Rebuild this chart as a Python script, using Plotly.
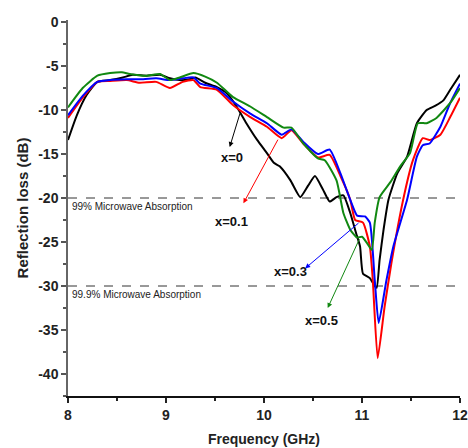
import plotly.graph_objects as go

# x = 0 (black)
f0 = [8.0, 8.09, 8.19, 8.3, 8.43, 8.56, 8.66, 8.8, 8.94, 9.04, 9.14, 9.24, 9.3, 9.4, 9.52, 9.62, 9.72, 9.82,
      9.93, 10.03, 10.1, 10.16, 10.27, 10.37, 10.45, 10.52, 10.6, 10.67, 10.74, 10.81, 10.88, 10.94, 10.98,
      11.01, 11.08, 11.13, 11.15, 11.18, 11.22, 11.27, 11.36, 11.46, 11.56, 11.66, 11.75, 11.83, 11.9, 12.0]
rl0 = [-13.4, -10.6, -8.3, -6.8, -6.6, -6.3, -6.0, -6.1, -6.0, -6.4, -6.6, -6.5, -6.3, -6.9, -7.4, -8.1, -9.6, -11.5,
       -13.4, -14.9, -16.0, -16.4, -18.0, -19.9, -18.6, -17.5, -19.0, -20.4, -19.9, -19.7, -21.7, -24.0, -25.5,
       -28.6, -29.1, -30.0, -30.2, -27.0, -23.6, -20.2, -17.2, -15.3, -11.5, -10.0, -9.5, -8.9, -7.7, -6.0]

# x = 0.1 (red)
f1 = [8.0, 8.15, 8.3, 8.43, 8.6, 8.73, 8.9, 9.04, 9.17, 9.28, 9.35, 9.52, 9.68, 9.86, 10.03, 10.18, 10.28, 10.4,
      10.55, 10.67, 10.78, 10.88, 10.93, 11.01, 11.08, 11.11, 11.16, 11.23, 11.3, 11.42, 11.52, 11.62, 11.69,
      11.8, 11.9, 12.0]
rl1 = [-10.9, -8.6, -6.8, -6.7, -6.6, -6.9, -6.8, -7.5, -6.8, -6.6, -7.4, -7.7, -9.4, -10.8, -11.9, -13.2, -12.3, -13.8,
       -15.4, -15.1, -17.5, -20.2, -22.5, -22.8, -25.5, -29.3, -38.2, -32.4, -27.4, -20.2, -15.7, -13.2, -13.4,
       -12.8, -10.8, -8.6]

# x = 0.3 (blue)
f3 = [8.0, 8.15, 8.3, 8.43, 8.6, 8.73, 8.9, 9.04, 9.17, 9.28, 9.35, 9.52, 9.68, 9.86, 10.03, 10.18, 10.28, 10.4,
      10.55, 10.67, 10.78, 10.88, 10.95, 11.03, 11.08, 11.13, 11.17, 11.25, 11.32, 11.46, 11.56, 11.62, 11.69,
      11.8, 11.9, 12.0]
rl3 = [-10.6, -8.4, -6.8, -6.6, -6.5, -6.5, -6.4, -6.6, -6.4, -6.3, -7.0, -7.5, -9.0, -10.4, -11.5, -12.8, -12.2, -13.6,
       -15.0, -14.5, -17.2, -20.2, -22.0, -22.1, -22.8, -29.3, -34.2, -29.3, -25.5, -20.2, -15.3, -14.0, -13.8,
       -11.9, -9.2, -7.0]

# x = 0.5 (green)
f5 = [8.0, 8.15, 8.3, 8.43, 8.55, 8.63, 8.8, 8.94, 9.04, 9.14, 9.28, 9.4, 9.52, 9.68, 9.86, 10.03, 10.2, 10.28,
      10.4, 10.55, 10.62, 10.74, 10.81, 10.88, 10.95, 11.0, 11.05, 11.1, 11.13, 11.18, 11.29, 11.39, 11.49,
      11.57, 11.66, 11.76, 11.9, 12.0]
rl5 = [-9.7, -7.5, -6.1, -5.8, -5.7, -5.9, -6.1, -5.9, -6.6, -6.3, -5.8, -6.2, -6.9, -8.5, -9.6, -10.8, -12.0, -12.0,
       -13.8, -15.5, -15.7, -18.0, -21.7, -23.6, -24.5, -24.4, -25.1, -25.9, -22.8, -19.9, -18.2, -16.4, -14.9,
       -11.5, -11.5, -10.9, -9.2, -7.5]

series_names = ["x=0", "x=0.1", "x=0.3", "x=0.5"]
series_colors = ["#000000", "#ff0000", "#0000ff", "#118811"]

x_ticks = [8, 9, 10, 11, 12]
y_ticks = [0, -5, -10, -15, -20, -25, -30, -35, -40]
levels = [-20, -30]
level_labels = ["99% Microwave Absorption", "99.9% Microwave Absorption"]

# annotation: label, text pos, arrow tail (on curve), arrow head
label_text_pos = [(9.67, -15.4), (9.67, -22.7), (10.27, -28.4), (10.59, -33.9)]
arrow_tail = [(9.76, -10.2), (10.15, -13.2), (10.98, -22.7), (10.98, -24.5)]
arrow_head = [(9.65, -14.2), (9.79, -20.6), (10.42, -28.0), (10.65, -32.5)]

fig = go.Figure()

for lv in levels:
    fig.add_trace(go.Scatter(x=[8, 12], y=[lv, lv], mode="lines",
                             line=dict(color="#333333", width=1, dash="dash"),
                             showlegend=False, hoverinfo="skip"))

for xs, ys, name, col in zip([f0, f1, f3, f5], [rl0, rl1, rl3, rl5], series_names, series_colors):
    fig.add_trace(go.Scatter(x=xs, y=ys, mode="lines", name=name,
                             line=dict(color=col, width=2, shape="spline", smoothing=0.5),
                             showlegend=False))

annotations = []
for lv, txt in zip(levels, level_labels):
    annotations.append(dict(x=8.02, y=lv, xref="x", yref="y", text=txt, showarrow=False,
                            xanchor="left", yanchor="top", yshift=-1,
                            font=dict(family="Liberation Sans Narrow, Liberation Sans, Arial", size=10, color="#222222")))

for name, col, tp, tl, hd in zip(series_names, series_colors, label_text_pos, arrow_tail, arrow_head):
    annotations.append(dict(x=hd[0], y=hd[1], ax=tl[0], ay=tl[1], xref="x", yref="y",
                            axref="x", ayref="y", text="", showarrow=True,
                            arrowhead=2, arrowsize=1, arrowwidth=1, arrowcolor=col))
    annotations.append(dict(x=tp[0], y=tp[1], xref="x", yref="y", text=name, showarrow=False,
                            font=dict(family="Liberation Sans, Arial", size=13, color="#111111", weight="bold")))

fig.update_layout(
    width=468, height=448,
    margin=dict(l=68, r=8, t=20, b=52, autoexpand=False),
    paper_bgcolor="white", plot_bgcolor="white",
    font=dict(family="Liberation Sans, Arial", color="#111111"),
    annotations=annotations,
)

fig.update_xaxes(range=[8, 12], tickvals=x_ticks, ticktext=[str(v) for v in x_ticks],
                 ticks="outside", ticklen=5, tickwidth=1.5, tickcolor="#222222",
                 minor=dict(dtick=0.5, ticks="outside", ticklen=3, tickcolor="#222222", tick0=8),
                 showline=True, linecolor="#111111", linewidth=2, showgrid=False, zeroline=False,
                 tickfont=dict(size=14, weight="bold", color="#222222"),
                 title=dict(text="Frequency (GHz)", font=dict(size=14, weight="bold", color="#222222"), standoff=12))

fig.update_yaxes(range=[-42.5, 0.23], tickvals=y_ticks, ticktext=[str(v) for v in y_ticks],
                 ticks="outside", ticklen=5, tickwidth=1.5, tickcolor="#555555",
                 minor=dict(dtick=2.5, ticks="outside", ticklen=3, tickcolor="#555555", tick0=0),
                 showline=True, linecolor="#666666", linewidth=1.5, showgrid=False, zeroline=False,
                 tickfont=dict(size=14, weight="bold", color="#222222"),
                 title=dict(text="Reflection loss (dB)", font=dict(size=15, weight="bold", color="#222222"), standoff=6))

# remove the browser's default 8px body margin so the figure sits at the page origin
fig.write_html("out.html", config={"displayModeBar": False},
               post_script="document.body.style.margin='0';document.body.style.overflow='hidden';")
